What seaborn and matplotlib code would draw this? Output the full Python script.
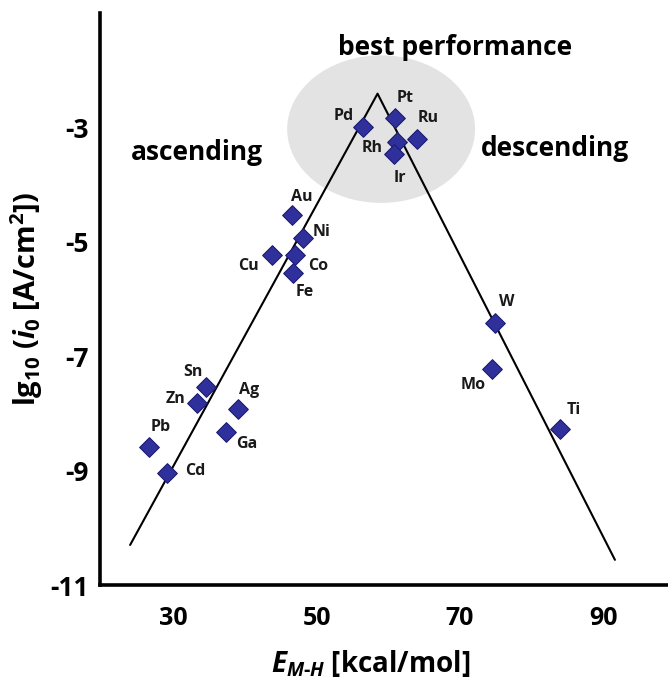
import numpy as np
import pandas as pd
import matplotlib.pyplot as plt
import seaborn as sns
from matplotlib.patches import Ellipse

# metal, E_M-H (kcal/mol), lg10(i0)
metals = ['Pd', 'Pt', 'Ru', 'Rh', 'Ir', 'W', 'Mo', 'Ti', 'Au', 'Ni',
          'Cu', 'Co', 'Fe', 'Sn', 'Zn', 'Ag', 'Ga', 'Pb', 'Cd']
e_mh = [56.5, 61.0, 64.0, 61.2, 60.8, 74.9, 74.4, 84.0, 46.6, 48.1,
        43.8, 47.0, 46.7, 34.6, 33.3, 39.1, 37.4, 26.7, 29.2]
lg_i0 = [-3.00, -2.83, -3.20, -3.26, -3.47, -6.42, -7.22, -8.27, -4.54, -4.94,
         -5.23, -5.23, -5.55, -7.54, -7.82, -7.92, -8.32, -8.58, -9.04]

# volcano line
volcano_x = [24.0, 58.5, 91.6]
volcano_y = [-10.30, -2.41, -10.56]

xticks = [30, 50, 70, 90]
yticks = [-3, -5, -7, -9, -11]

# label offsets in pixels (layout only)
label_offset = {
    'Pd': (-20, 11), 'Pt': (10, 20), 'Ru': (11, 21), 'Rh': (-25, -6),
    'Ir': (6, -24), 'W': (12, 21), 'Mo': (-18, -16), 'Ti': (13, 19),
    'Au': (10, 18), 'Ni': (19, 6), 'Cu': (-24, -11), 'Co': (23, -11),
    'Fe': (12, -19), 'Sn': (-13, 15), 'Zn': (-21, 4), 'Ag': (11, 19),
    'Ga': (21, -12), 'Pb': (11, 20), 'Cd': (28, 2),
}

df = pd.DataFrame({'metal': metals, 'E': e_mh, 'lg': lg_i0})

sns.set_theme(style='white')
plt.rcParams['font.family'] = ['Open Sans', 'DejaVu Sans']
plt.rcParams['mathtext.fontset'] = 'custom'
plt.rcParams['mathtext.rm'] = 'Open Sans:bold'
plt.rcParams['mathtext.it'] = 'Open Sans:bold:italic'
plt.rcParams['mathtext.bf'] = 'Open Sans:bold'
for key in ['text.color', 'axes.labelcolor', 'xtick.color', 'ytick.color']:
    plt.rcParams[key] = 'black'

fig = plt.figure(figsize=(6.68, 6.86), dpi=100)
ax = fig.add_axes([100 / 668, 101 / 686, 568 / 668, 572 / 686])

ax.add_patch(Ellipse((59.0, -3.03), 26.2, 2.58, facecolor='#e3e3e3',
                     edgecolor='none', zorder=0))

sns.lineplot(x=volcano_x, y=volcano_y, color='black', lw=1.5, ax=ax,
             estimator=None, sort=False, zorder=2)
sns.scatterplot(data=df, x='E', y='lg', marker='D', s=100, color='#30309c',
                edgecolor='#1c1c70', linewidth=0.8, ax=ax, zorder=3)

for m, x, y in zip(metals, e_mh, lg_i0):
    dx, dy = label_offset[m]
    ax.annotate(m, (x, y), xytext=(dx, dy), textcoords='offset pixels',
                ha='center', va='center', fontsize=11.5, fontweight='bold',
                color='#1a1a1a')

ax.text(69.3, -1.6, 'best performance', ha='center', va='center',
        fontsize=19, fontweight='bold')
ax.text(33.3, -3.44, 'ascending', ha='center', va='center',
        fontsize=19, fontweight='bold')
ax.text(83.3, -3.37, 'descending', ha='center', va='center',
        fontsize=19, fontweight='bold')

ax.set_xlim(19.8, 99)
ax.set_ylim(-11, -1)
ax.set_xticks(xticks)
ax.set_yticks(yticks)
ax.set_xticklabels([str(t) for t in xticks], fontsize=18, fontweight='bold')
ax.set_yticklabels([str(t) for t in yticks], fontsize=19, fontweight='bold')
ax.tick_params(axis='both', direction='inout', length=14, width=2.2,
               color='black')
ax.tick_params(axis='x', pad=8)
ax.tick_params(axis='y', pad=1)
for side in ['top', 'right']:
    ax.spines[side].set_visible(False)
for side in ['left', 'bottom']:
    ax.spines[side].set_linewidth(2.6)
    ax.spines[side].set_color('black')

ax.set_xlabel(r'$E_{M\text{-}H}$ [kcal/mol]', fontsize=20, fontweight='bold')
ax.set_ylabel(r'lg$_{10}$ ($i_0$ [A/cm$^2$])', fontsize=21, fontweight='bold',
              labelpad=4)
ax.xaxis.set_label_coords((371 - 100) / 568, -0.11)

fig.savefig('out.png', dpi=100)
